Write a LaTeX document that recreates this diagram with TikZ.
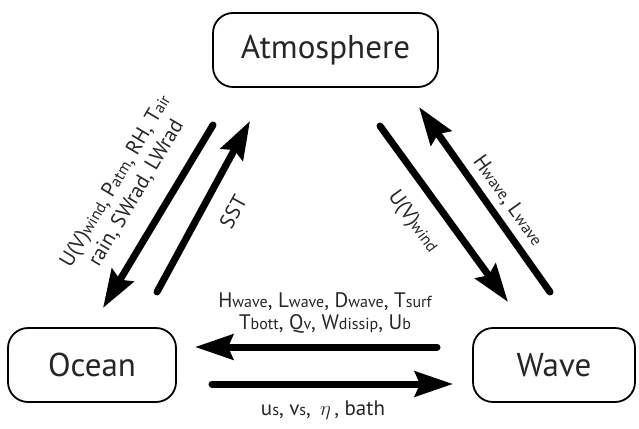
\documentclass[tikz,border=0pt]{standalone}
\usepackage{fontspec}
\setmainfont{PT Sans}
\usetikzlibrary{arrows.meta}
\newcommand\sbs[1]{{\fontsize{16}{16}\selectfont #1}}
\begin{document}
\begin{tikzpicture}[x=1pt,y=-1pt,
 box/.style={draw, rounded corners=20pt, line width=1.8pt, minimum height=74pt, inner sep=0pt, text=black!85, font=\fontsize{33}{36}\selectfont},
 flow/.style={line width=7pt, line cap=round, -{Stealth[length=38pt,width=25pt,inset=5pt]}},
 lbl/.style={font=\fontsize{21}{22}\selectfont, text=black!85, align=center, inner sep=0pt}]
\useasboundingbox (0,0) rectangle (639,428);
\node[box, minimum width=225pt] (atm) at (325.5,50) {Atmosphere};
\node[box, minimum width=168pt] (ocean) at (92,365) {Ocean};
\node[box, minimum width=162pt] (wave) at (554,365) {Wave};
% arrow end points
\coordinate (ao1) at (213,125);
\coordinate (ao2) at (103,308);
\coordinate (oa1) at (157,292);
\coordinate (oa2) at (250,121);
\coordinate (aw1) at (380,126);
\coordinate (aw2) at (508,302);
\coordinate (wa1) at (550,292);
\coordinate (wa2) at (419,107);
\coordinate (wo1) at (437,347);
\coordinate (wo2) at (195,347);
\coordinate (ow1) at (212,384);
\coordinate (ow2) at (453,384);
\draw[flow] (ao1) -- (ao2);
\draw[flow] (oa1) -- (oa2);
\draw[flow] (aw1) -- (aw2);
\draw[flow] (wa1) -- (wa2);
\draw[flow] (wo1) -- (wo2);
\draw[flow] (ow1) -- (ow2);
% labels
\node[lbl, rotate=59.3, font=\fontsize{21}{24}\selectfont] (lab1) at (126,187) {U(V)\sbs{wind}, P\sbs{atm}, RH, T\sbs{air}\\rain, SWrad, LWrad};
\node[lbl, rotate=61.5] (lab2) at (233,212) {SST};
\node[lbl, rotate=-54] (lab3) at (413,222) {U(V)\sbs{wind}};
\node[lbl, rotate=-54.5] (lab4) at (508,201) {H\sbs{wave}, L\sbs{wave}};
\node[lbl] (lab5) at (325,313) {H\sbs{wave}, L\sbs{wave}, D\sbs{wave}, T\sbs{surf}\\T\sbs{bott}, Q\sbs{v}, W\sbs{dissip}, U\sbs{b}};
\node[lbl, anchor=base] (lab6) at (323,415) {u\sbs{s}, v\sbs{s}, \,$\eta$\,, bath};
\end{tikzpicture}
\end{document}
